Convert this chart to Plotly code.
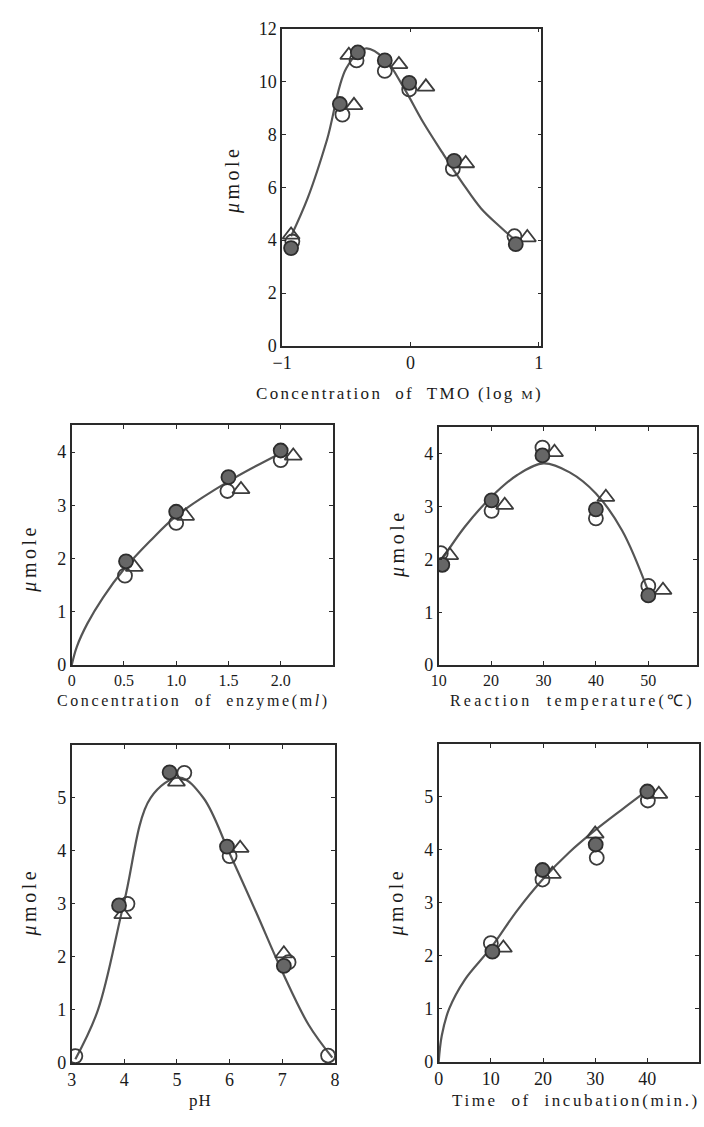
import plotly.graph_objects as go

# ---------------- data ----------------
# Panel 1: Concentration of TMO (log M)
tmo_filled_x = [-0.93, -0.55, -0.41, -0.20, -0.01, 0.34, 0.82]
tmo_filled_y = [3.70, 9.15, 11.10, 10.80, 9.95, 7.00, 3.85]
tmo_open_x = [-0.92, -0.53, -0.42, -0.20, -0.01, 0.33, 0.81]
tmo_open_y = [3.95, 8.75, 10.80, 10.40, 9.70, 6.70, 4.15]
tmo_tri_x = [-0.93, -0.44, -0.48, -0.09, 0.12, 0.43, 0.91]
tmo_tri_y = [4.20, 9.10, 11.00, 10.65, 9.80, 6.90, 4.10]
tmo_curve_x = [-0.93, -0.80, -0.65, -0.50, -0.35, -0.20, -0.05, 0.10, 0.25, 0.40, 0.55, 0.70, 0.82]
tmo_curve_y = [4.15, 5.60, 7.80, 10.50, 11.25, 10.85, 9.75, 8.45, 7.30, 6.20, 5.20, 4.50, 3.98]

# Panel 2: Concentration of enzyme (ml)
enz_filled_x = [0.52, 1.00, 1.50, 2.00]
enz_filled_y = [1.95, 2.88, 3.53, 4.03]
enz_open_x = [0.51, 1.00, 1.49, 2.00]
enz_open_y = [1.68, 2.67, 3.27, 3.85]
enz_tri_x = [0.60, 1.09, 1.62, 2.12]
enz_tri_y = [1.84, 2.80, 3.30, 3.93]
enz_curve_x = [0.00, 0.05, 0.15, 0.30, 0.50, 0.75, 1.00, 1.50, 2.00]
enz_curve_y = [0.00, 0.35, 0.78, 1.27, 1.80, 2.33, 2.80, 3.45, 3.98]

# Panel 3: Reaction temperature (C)
tmp_filled_x = [10.7, 20.1, 29.8, 40.0, 50.0]
tmp_filled_y = [1.90, 3.12, 3.97, 2.95, 1.32]
tmp_open_x = [10.4, 20.1, 29.8, 40.0, 50.0]
tmp_open_y = [2.12, 2.92, 4.12, 2.78, 1.50]
tmp_tri_x = [12.1, 22.6, 32.1, 41.9, 52.8]
tmp_tri_y = [2.08, 3.03, 4.03, 3.18, 1.42]
tmp_curve_x = [10.5, 15.0, 20.0, 25.0, 30.0, 35.0, 40.0, 45.0, 50.0]
tmp_curve_y = [1.98, 2.62, 3.18, 3.60, 3.82, 3.65, 3.25, 2.55, 1.40]

# Panel 4: pH
ph_filled_x = [3.90, 4.86, 5.95, 7.03]
ph_filled_y = [2.97, 5.48, 4.08, 1.83]
ph_open_x = [3.07, 4.06, 5.14, 6.00, 7.12, 7.87]
ph_open_y = [0.13, 3.00, 5.47, 3.90, 1.90, 0.14]
ph_tri_x = [3.97, 4.99, 6.20, 7.03]
ph_tri_y = [2.80, 5.30, 4.05, 2.06]
ph_curve_x = [3.07, 3.50, 4.00, 4.50, 5.05, 5.50, 6.00, 6.50, 7.00, 7.50, 7.95]
ph_curve_y = [0.07, 1.00, 3.05, 5.00, 5.38, 5.00, 3.95, 2.85, 1.72, 0.72, 0.10]

# Panel 5: Time of incubation (min.)
time_filled_x = [10.3, 19.9, 30.1, 40.0]
time_filled_y = [2.08, 3.62, 4.10, 5.10]
time_open_x = [10.0, 19.9, 30.3, 40.1]
time_open_y = [2.24, 3.44, 3.85, 4.93]
time_tri_x = [12.4, 21.8, 30.0, 42.2]
time_tri_y = [2.15, 3.54, 4.30, 5.05]
time_curve_x = [0.0, 0.6, 2.0, 5.0, 10.0, 15.0, 20.0, 25.0, 30.0, 35.0, 40.0]
time_curve_y = [0.00, 0.50, 1.00, 1.55, 2.15, 2.85, 3.45, 3.95, 4.37, 4.75, 5.12]

# tick labels
tmo_ticks = [-1, 0, 1]
tmo_ticktext = ["\u22121", "0", "1"]
enz_ticks = [0, 0.5, 1.0, 1.5, 2.0]
enz_ticktext = ["0", "0.5", "1.0", "1.5", "2.0"]
tmp_ticks = [10, 20, 30, 40, 50]
ph_ticks = [3, 4, 5, 6, 7, 8]
time_ticks = [0, 10, 20, 30, 40]

# ---------------- styling ----------------
FONT = 'Liberation Serif, "Times New Roman", Times, serif'
INK = "#2a2a2a"
CURVE = "#555555"
FILL = "#666666"

panels = [
    dict(cx=tmo_curve_x, cy=tmo_curve_y, fx=tmo_filled_x, fy=tmo_filled_y,
         ox=tmo_open_x, oy=tmo_open_y, tx=tmo_tri_x, ty=tmo_tri_y),
    dict(cx=enz_curve_x, cy=enz_curve_y, fx=enz_filled_x, fy=enz_filled_y,
         ox=enz_open_x, oy=enz_open_y, tx=enz_tri_x, ty=enz_tri_y),
    dict(cx=tmp_curve_x, cy=tmp_curve_y, fx=tmp_filled_x, fy=tmp_filled_y,
         ox=tmp_open_x, oy=tmp_open_y, tx=tmp_tri_x, ty=tmp_tri_y),
    dict(cx=ph_curve_x, cy=ph_curve_y, fx=ph_filled_x, fy=ph_filled_y,
         ox=ph_open_x, oy=ph_open_y, tx=ph_tri_x, ty=ph_tri_y),
    dict(cx=time_curve_x, cy=time_curve_y, fx=time_filled_x, fy=time_filled_y,
         ox=time_open_x, oy=time_open_y, tx=time_tri_x, ty=time_tri_y),
]

fig = go.Figure()
for i, p in enumerate(panels):
    ax = "" if i == 0 else str(i + 1)
    xa, ya = "x" + ax, "y" + ax
    fig.add_trace(go.Scatter(x=p["cx"], y=p["cy"], mode="lines", xaxis=xa, yaxis=ya,
                             line=dict(color=CURVE, width=2.2, shape="spline", smoothing=1.0),
                             showlegend=False, hoverinfo="skip"))
    fig.add_trace(go.Scatter(x=p["ox"], y=p["oy"], mode="markers", xaxis=xa, yaxis=ya,
                             marker=dict(symbol="circle-open", size=14, color="#3c3c3c",
                                         line=dict(width=1.8, color="#3c3c3c")),
                             showlegend=False))
    fig.add_trace(go.Scatter(x=p["tx"], y=p["ty"], mode="markers", xaxis=xa, yaxis=ya,
                             marker=dict(symbol="triangle-up-open", size=15, color="#3c3c3c",
                                         line=dict(width=1.8, color="#3c3c3c")),
                             showlegend=False))
    fig.add_trace(go.Scatter(x=p["fx"], y=p["fy"], mode="markers", xaxis=xa, yaxis=ya,
                             marker=dict(symbol="circle", size=14, color=FILL,
                                         line=dict(width=1.8, color="#2e2e2e")),
                             showlegend=False))

W, H = 704, 1127


def dom_x(l, r):
    return [l / W, min(r / W, 1.0)]


def dom_y(t, b):
    return [1 - b / H, 1 - t / H]


def axis(domain, rng, tickvals, ticktext=None, anchor=None, fs=18, lw=1.6):
    d = dict(domain=domain, range=rng, tickvals=tickvals, showline=True, mirror="ticks",
             linecolor=INK, linewidth=lw, ticks="inside", ticklen=4, tickwidth=1.2,
             tickcolor=INK, showgrid=False, zeroline=False,
             tickfont=dict(family=FONT, size=fs, color="#1a1a1a"), anchor=anchor)
    if ticktext is not None:
        d["ticktext"] = ticktext
    return d


lay = dict(
    xaxis=axis(dom_x(278, 543), [-1, 1.02], tmo_ticks, tmo_ticktext, "y"),
    yaxis=axis(dom_y(19, 342), [0, 12], [0, 2, 4, 6, 8, 10, 12], None, "x"),
    xaxis2=axis(dom_x(63, 330), [0, 2.5], enz_ticks, enz_ticktext, "y2", 16),
    yaxis2=axis(dom_y(423, 667), [0, 4.5], [0, 1, 2, 3, 4], None, "x2"),
    xaxis3=axis(dom_x(438, 702), [10, 59.3], tmp_ticks, None, "y3", 16),
    yaxis3=axis(dom_y(425, 667), [0, 4.5], [0, 1, 2, 3, 4], None, "x3"),
    xaxis4=axis(dom_x(63, 332), [3, 8], ph_ticks, None, "y4"),
    yaxis4=axis(dom_y(748, 1072), [0, 6], [0, 1, 2, 3, 4, 5], None, "x4"),
    xaxis5=axis(dom_x(438, 704), [0, 49.9], time_ticks, None, "y5"),
    yaxis5=axis(dom_y(747, 1071), [0, 6], [0, 1, 2, 3, 4, 5], None, "x5"),
)


def ls(txt, sp=2.5):
    return '<span style="letter-spacing:%spx">%s</span>' % (sp, txt)


MU = ls("<i>\u03bc</i>mole", 3.5)
titles = [
    (398, 390, ls('Concentration  of  TMO (log <span style="font-size:13px">M</span>)', 2.3), 0, 17),
    (188, 703, ls("Concentration  of  enzyme(m<i>l</i>)", 2.6), 0, 16),
    (575, 703, ls("Reaction  temperature(\u2103)", 3.2), 0, 16),
    (195, 1110, ls("pH", 1), 0, 17),
    (578, 1110, ls("Time  of  incubation(min.)", 2.6), 0, 17),
    (228, 173, MU, -90, 20),
    (20, 558, MU, -90, 20),
    (396, 543, MU, -90, 20),
    (20, 908, MU, -90, 20),
    (395, 908, MU, -90, 20),
]
annotations = []
for x, y, t, ang, fs in titles:
    annotations.append(dict(x=x / W, y=1 - y / H, xref="paper", yref="paper", text=t,
                            showarrow=False, textangle=ang, xanchor="center", yanchor="middle",
                            font=dict(family=FONT, size=fs, color="#1a1a1a")))

fig.update_layout(width=W, height=H, margin=dict(l=0, r=0, t=0, b=0),
                  paper_bgcolor="white", plot_bgcolor="white",
                  font=dict(family=FONT),
                  annotations=annotations, **lay)

fig.write_html("out.html")
